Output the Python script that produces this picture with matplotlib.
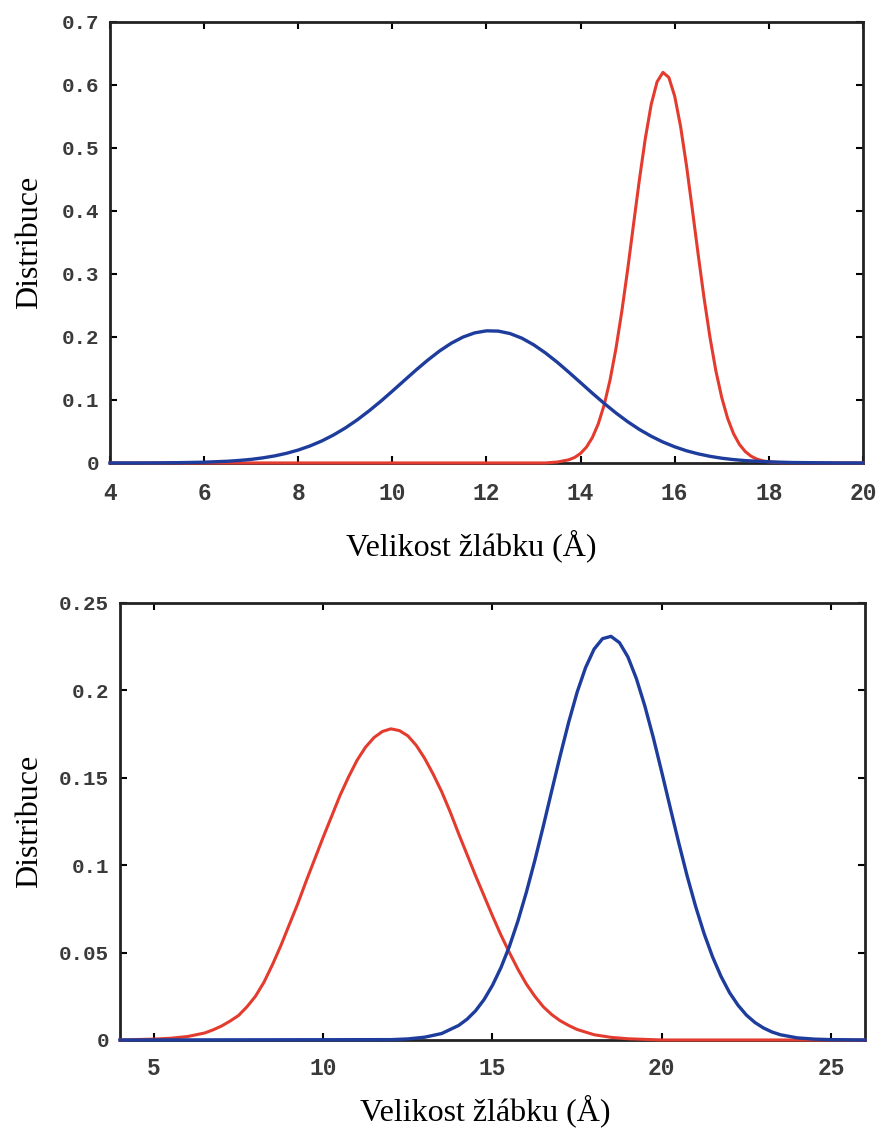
import matplotlib
matplotlib.use("Agg")
import matplotlib.pyplot as plt

# Horní graf: hodnoty distribuce
top_blue_x = [4.0, 4.5, 5.0, 5.5, 6.0, 6.5, 6.75, 7.0, 7.25, 7.5, 7.75, 8.0, 8.25, 8.5, 8.75,
              9.0, 9.25, 9.5, 9.75, 10.0, 10.25, 10.5, 10.75, 11.0, 11.25, 11.5, 11.75,
              12.0, 12.25, 12.5, 12.75, 13.0, 13.25, 13.5, 13.75, 14.0, 14.25, 14.5, 14.75,
              15.0, 15.25, 15.5, 15.75, 16.0, 16.25, 16.5, 16.75, 17.0, 17.25, 17.5, 18.0,
              18.5, 19.0, 19.5, 20.0]
top_blue_y = [0.0, 0.0, 0.0001, 0.0005, 0.0012, 0.0027, 0.004, 0.0057, 0.0081, 0.0112, 0.0153,
              0.0205, 0.027, 0.0349, 0.0444, 0.0555, 0.0682, 0.0824, 0.0977, 0.114, 0.1307,
              0.1473, 0.1631, 0.1776, 0.19, 0.1998, 0.2065, 0.2097, 0.2093, 0.2054, 0.1981,
              0.1877, 0.1748, 0.1601, 0.144, 0.1274, 0.1107, 0.0946, 0.0794, 0.0655, 0.0531,
              0.0424, 0.0332, 0.0256, 0.0193, 0.0144, 0.0105, 0.0075, 0.0053, 0.0037, 0.0017,
              0.0007, 0.0003, 0.0, 0.0]

top_red_x = [4.0, 13.25, 13.5, 13.75, 13.875, 14.0, 14.125, 14.25, 14.375, 14.5, 14.625, 14.75,
             14.875, 15.0, 15.125, 15.25, 15.375, 15.5, 15.625, 15.75, 15.875, 16.0, 16.125,
             16.25, 16.375, 16.5, 16.625, 16.75, 16.875, 17.0, 17.125, 17.25, 17.375, 17.5,
             17.625, 17.75, 17.875, 18.0, 18.25, 20.0]
top_red_y = [0.0, 0.0, 0.0014, 0.005, 0.0088, 0.0152, 0.0252, 0.0403, 0.062, 0.0919, 0.1314,
             0.181, 0.2402, 0.307, 0.379, 0.45, 0.515, 0.569, 0.605, 0.62, 0.612, 0.582,
             0.534, 0.472, 0.402, 0.33, 0.261, 0.199, 0.146, 0.1036, 0.0706, 0.0464, 0.0294,
             0.018, 0.0106, 0.006, 0.0033, 0.0017, 0.0004, 0.0]

# Dolní graf
bot_red_x = [4.0, 5.0, 5.5, 6.0, 6.5, 6.75, 7.0, 7.25, 7.5, 7.75, 8.0, 8.25, 8.5, 8.75, 9.0,
             9.25, 9.5, 9.75, 10.0, 10.25, 10.5, 10.75, 11.0, 11.25, 11.5, 11.75, 12.0,
             12.25, 12.5, 12.75, 13.0, 13.25, 13.5, 13.75, 14.0, 14.25, 14.5, 14.75, 15.0,
             15.25, 15.5, 15.75, 16.0, 16.25, 16.5, 16.75, 17.0, 17.25, 17.5, 18.0, 18.5,
             19.0, 20.0, 26.0]
bot_red_y = [0.0, 0.0005, 0.001, 0.002, 0.004, 0.0058, 0.008, 0.0108, 0.014, 0.019, 0.025,
             0.033, 0.043, 0.054, 0.066, 0.078, 0.091, 0.1035, 0.116, 0.128, 0.14, 0.1505,
             0.16, 0.1675, 0.173, 0.1765, 0.178, 0.177, 0.174, 0.1685, 0.161, 0.152, 0.142,
             0.1305, 0.118, 0.106, 0.094, 0.0825, 0.071, 0.06, 0.05, 0.0405, 0.032, 0.025,
             0.019, 0.0145, 0.011, 0.0083, 0.006, 0.003, 0.0015, 0.0007, 0.0, 0.0]

bot_blue_x = [4.0, 12.0, 12.5, 13.0, 13.5, 14.0, 14.25, 14.5, 14.75, 15.0, 15.25, 15.5, 15.75,
              16.0, 16.25, 16.5, 16.75, 17.0, 17.25, 17.5, 17.75, 18.0, 18.25, 18.5, 18.75,
              19.0, 19.25, 19.5, 19.75, 20.0, 20.25, 20.5, 20.75, 21.0, 21.25, 21.5, 21.75,
              22.0, 22.25, 22.5, 22.75, 23.0, 23.25, 23.5, 24.0, 24.5, 25.0, 26.0]
bot_blue_y = [0.0, 0.0002, 0.0006, 0.0016, 0.0037, 0.0083, 0.0119, 0.0167, 0.0231, 0.0313,
              0.0414, 0.0536, 0.068, 0.0845, 0.1027, 0.1223, 0.1426, 0.1627, 0.1818, 0.199,
              0.2131, 0.2236, 0.2296, 0.2309, 0.2273, 0.2191, 0.2067, 0.191, 0.1729, 0.1531,
              0.1328, 0.1128, 0.0937, 0.0763, 0.0608, 0.0475, 0.0363, 0.0271, 0.0199, 0.0142,
              0.01, 0.0069, 0.0046, 0.003, 0.0012, 0.0005, 0.0002, 0.0]

top_xticks = [4, 6, 8, 10, 12, 14, 16, 18, 20]
top_yticks = [0, 0.1, 0.2, 0.3, 0.4, 0.5, 0.6, 0.7]
top_yticklabels = ["0", "0.1", "0.2", "0.3", "0.4", "0.5", "0.6", "0.7"]
bot_xticks = [5, 10, 15, 20, 25]
bot_yticks = [0, 0.05, 0.1, 0.15, 0.2, 0.25]
bot_yticklabels = ["0", "0.05", "0.1", "0.15", "0.2", "0.25"]

RED = "#e43b2f"
BLUE = "#1d3c9c"
ytick_font = dict(family="Liberation Mono", size=15, weight="bold")
xtick_font = dict(family="Liberation Mono", size=16.5, weight="bold")
label_font = dict(family="Liberation Serif", size=23)

fig = plt.figure(figsize=(8.83, 11.33), dpi=100)
ax1 = fig.add_axes([0.1246, 0.5914, 0.8527, 0.3892])
ax2 = fig.add_axes([0.1359, 0.0821, 0.8437, 0.3857])


def style_axis(ax, xticks, yticks, yticklabels, xlim, ylim, xpad):
    ax.set_xlim(*xlim)
    ax.set_ylim(*ylim)
    ax.set_xticks(xticks)
    ax.set_xticklabels([str(t) for t in xticks], **xtick_font, color="#3a3a3a")
    ax.set_yticks(yticks)
    ax.set_yticklabels(yticklabels, **ytick_font, color="#3a3a3a")
    ax.tick_params(direction="in", length=5, width=1.5, top=True, right=True)
    ax.tick_params(axis="x", pad=xpad)
    ax.tick_params(axis="y", pad=8)
    for sp in ax.spines.values():
        sp.set_linewidth(2)
        sp.set_color("#222222")


# modrá je kreslená navrch, jako v originálu
ax1.plot(top_red_x, top_red_y, color=RED, lw=2.2, clip_on=False, zorder=3)
ax1.plot(top_blue_x, top_blue_y, color=BLUE, lw=2.4, clip_on=False, zorder=4)
style_axis(ax1, top_xticks, top_yticks, top_yticklabels, (4, 20), (0, 0.7), 14)
ax1.set_xlabel("Velikost žlábku (Å)", **label_font)
ax1.set_ylabel("Distribuce", **label_font)
ax1.xaxis.set_label_coords(0.48, -0.15)
ax1.yaxis.set_label_coords(-0.088, 0.5)

ax2.plot(bot_red_x, bot_red_y, color=RED, lw=2.2, clip_on=False, zorder=3)
ax2.plot(bot_blue_x, bot_blue_y, color=BLUE, lw=2.4, clip_on=False, zorder=4)
style_axis(ax2, bot_xticks, bot_yticks, bot_yticklabels, (4, 26), (0, 0.25), 12)
ax2.set_xlabel("Velikost žlábku (Å)", **label_font)
ax2.set_ylabel("Distribuce", **label_font)
ax2.xaxis.set_label_coords(0.49, -0.124)
ax2.yaxis.set_label_coords(-0.102, 0.5)

fig.savefig("out.png", dpi=100)
